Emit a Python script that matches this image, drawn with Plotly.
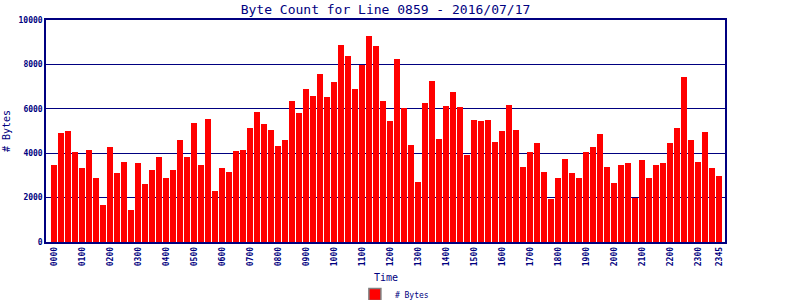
import plotly.graph_objects as go

values = [3470, 4920, 5010, 4060, 3340, 4150, 2890, 1670, 4290, 3110, 3610, 1440,
          3560, 2620, 3250, 3830, 2890, 3250, 4600, 3830, 5370, 3470, 5550, 2300,
          3340, 3160, 4110, 4150, 5140, 5860, 5320, 5050, 4330, 4600, 6360, 5820,
          6900, 6590, 7580, 6540, 7220, 8890, 8390, 6900, 7980, 9290, 8840, 6360,
          5460, 8260, 6050, 4380, 2710, 6270, 7260, 4650, 6140, 6770, 6090, 3920,
          5500, 5460, 5500, 4510, 5010, 6180, 5050, 3380, 4060, 4470, 3160, 1940,
          2890, 3740, 3110, 2890, 4060, 4290, 4870, 3380, 2660, 3470, 3560, 1985,
          3700, 2890, 3470, 3560, 4470, 5140, 7440, 4600, 3610, 4960, 3340, 2980]

times = ["%02d%02d" % (h, m) for h in range(24) for m in (0, 15, 30, 45)]
tick_labels = [t for t in times if t.endswith("00")] + ["2345"]
y_ticks = [0, 2000, 4000, 6000, 8000, 10000]
y_tick_text = [str(v) for v in y_ticks]

navy = "#000080"
font = "DejaVu Sans Mono"

fig = go.Figure()
fig.add_trace(go.Bar(x=times, y=values, marker=dict(color="#FF0000", line=dict(width=0)),
                     width=0.857, showlegend=False, name="# Bytes"))
fig.add_trace(go.Bar(x=[None], y=[None], name="# Bytes",
                     marker=dict(color="#FF0000", line=dict(color="#808080", width=1.5))))

fig.update_layout(
    width=800, height=300,
    margin=dict(l=46, r=75, t=20, b=58, autoexpand=False),
    paper_bgcolor="white", plot_bgcolor="white",
    title=dict(text="Byte Count for Line 0859 - 2016/07/17", x=0.5, xref="paper",
               y=0.967, yref="container", yanchor="middle",
               font=dict(family=font, size=13, color=navy)),
    bargap=0,
    legend=dict(orientation="h", xref="container", yref="container", x=0.493, xanchor="center",
                y=0.018, yanchor="middle", font=dict(family=font, size=8, color=navy),
                itemwidth=30, tracegroupgap=0),
    showlegend=True,
    annotations=[dict(text="Time", xref="paper", yref="paper", x=0.5, y=-0.162,
                      xanchor="center", yanchor="middle", showarrow=False,
                      font=dict(family=font, size=10, color=navy))],
)
fig.update_xaxes(type="category", categoryorder="array", categoryarray=times,
                 range=[-1.143, 95.857], tickmode="array", tickvals=tick_labels,
                 ticktext=tick_labels, tickangle=-90, ticks="", automargin=False,
                 tickfont=dict(family=font, size=8, color=navy, weight="bold"),
                 showline=True, linecolor=navy, linewidth=1.5, mirror=True,
                 showgrid=False, zeroline=False)
fig.update_yaxes(range=[0, 10000], tickmode="array", tickvals=y_ticks, ticktext=y_tick_text,
                 ticks="", automargin=False,
                 tickfont=dict(family=font, size=8, color=navy, weight="bold"),
                 showline=True, linecolor=navy, linewidth=1.5, mirror=True,
                 showgrid=True, gridcolor=navy, gridwidth=1.2, zeroline=False,
                 title=dict(text="# Bytes", font=dict(family=font, size=10, color=navy), standoff=6))

fig.write_html("out.html")
